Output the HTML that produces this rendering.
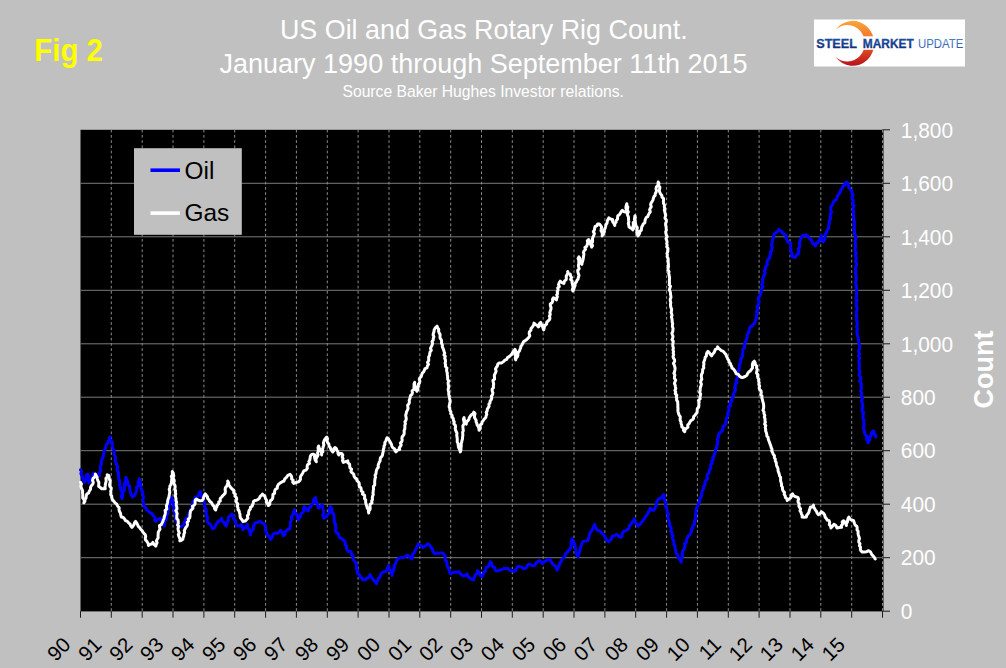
<!DOCTYPE html>
<html><head><meta charset="utf-8"><style>
html,body{margin:0;padding:0;background:#c0c0c0;overflow:hidden;}
svg{display:block;}
text{font-family:"Liberation Sans",sans-serif;}
.yl{font-size:22px;fill:#fff;}
.xl{font-size:20.5px;fill:#000;}
</style></head><body>
<svg width="1006" height="668" viewBox="0 0 1006 668">
<rect x="0" y="0" width="1006" height="668" fill="#c0c0c0"/>
<text transform="translate(34.3,61.1) scale(0.912,1)" font-size="32.2" font-weight="bold" fill="#ffff00">Fig 2</text>
<text transform="translate(483.8,39.3) scale(0.96,1)" font-size="28" fill="#fff" text-anchor="middle">US Oil and Gas Rotary Rig Count.</text>
<text transform="translate(483.5,73.3) scale(0.965,1)" font-size="28" fill="#fff" text-anchor="middle">January 1990 through September 11th 2015</text>
<text transform="translate(483.2,97) scale(0.94,1)" font-size="16.7" fill="#fff" text-anchor="middle">Source Baker Hughes Investor relations.</text>
<g id="logo">
<defs>
<linearGradient id="cres" x1="0" y1="0" x2="0" y2="1">
<stop offset="0" stop-color="#f9a63a"/>
<stop offset="0.45" stop-color="#f26a2a"/>
<stop offset="1" stop-color="#b8101a"/>
</linearGradient>
<linearGradient id="blu" x1="0" y1="0" x2="0" y2="1">
<stop offset="0" stop-color="#2260b4"/>
<stop offset="1" stop-color="#0a1f68"/>
</linearGradient>
<linearGradient id="blu2" x1="0" y1="0" x2="0" y2="1">
<stop offset="0" stop-color="#4a8ad0"/>
<stop offset="1" stop-color="#3050a0"/>
</linearGradient>
</defs>
<rect x="814" y="19.5" width="151" height="47" fill="#fff"/>
<path d="M 835.5 29.8 A 21.5 22.5 0 1 1 835.5 56.8 A 17.5 18.3 0 1 0 835.5 29.8 Z" fill="url(#cres)"/>
<rect x="858.5" y="36.3" width="20" height="13.5" fill="#fff"/>
<text x="816.2" y="47.9" font-size="12.6" font-weight="bold" fill="url(#blu)" stroke="#163a8a" stroke-width="0.3" textLength="40.8" lengthAdjust="spacingAndGlyphs">STEEL</text>
<text x="862.8" y="47.9" font-size="12.6" font-weight="bold" fill="url(#blu)" stroke="#163a8a" stroke-width="0.3" textLength="51" lengthAdjust="spacingAndGlyphs">MARKET</text>
<text x="918" y="47.9" font-size="12.6" fill="url(#blu2)" textLength="45.3" lengthAdjust="spacingAndGlyphs">UPDATE</text>
</g>
<rect x="80.5" y="129.8" width="803.0" height="481.6" fill="#000"/>
<line x1="80.5" y1="557.7" x2="882.5" y2="557.7" stroke="#7a7a7a" stroke-width="1"/>
<line x1="80.5" y1="504.2" x2="882.5" y2="504.2" stroke="#7a7a7a" stroke-width="1"/>
<line x1="80.5" y1="450.7" x2="882.5" y2="450.7" stroke="#7a7a7a" stroke-width="1"/>
<line x1="80.5" y1="397.2" x2="882.5" y2="397.2" stroke="#7a7a7a" stroke-width="1"/>
<line x1="80.5" y1="343.8" x2="882.5" y2="343.8" stroke="#7a7a7a" stroke-width="1"/>
<line x1="80.5" y1="290.3" x2="882.5" y2="290.3" stroke="#7a7a7a" stroke-width="1"/>
<line x1="80.5" y1="236.8" x2="882.5" y2="236.8" stroke="#7a7a7a" stroke-width="1"/>
<line x1="80.5" y1="183.3" x2="882.5" y2="183.3" stroke="#7a7a7a" stroke-width="1"/>
<line x1="111.3" y1="129.8" x2="111.3" y2="611.2" stroke="#8c8c8c" stroke-width="1" stroke-dasharray="2.7 2.5"/>
<line x1="142.2" y1="129.8" x2="142.2" y2="611.2" stroke="#8c8c8c" stroke-width="1" stroke-dasharray="2.7 2.5"/>
<line x1="173.0" y1="129.8" x2="173.0" y2="611.2" stroke="#8c8c8c" stroke-width="1" stroke-dasharray="2.7 2.5"/>
<line x1="203.9" y1="129.8" x2="203.9" y2="611.2" stroke="#8c8c8c" stroke-width="1" stroke-dasharray="2.7 2.5"/>
<line x1="234.7" y1="129.8" x2="234.7" y2="611.2" stroke="#8c8c8c" stroke-width="1" stroke-dasharray="2.7 2.5"/>
<line x1="265.6" y1="129.8" x2="265.6" y2="611.2" stroke="#8c8c8c" stroke-width="1" stroke-dasharray="2.7 2.5"/>
<line x1="296.4" y1="129.8" x2="296.4" y2="611.2" stroke="#8c8c8c" stroke-width="1" stroke-dasharray="2.7 2.5"/>
<line x1="327.3" y1="129.8" x2="327.3" y2="611.2" stroke="#8c8c8c" stroke-width="1" stroke-dasharray="2.7 2.5"/>
<line x1="358.1" y1="129.8" x2="358.1" y2="611.2" stroke="#8c8c8c" stroke-width="1" stroke-dasharray="2.7 2.5"/>
<line x1="389.0" y1="129.8" x2="389.0" y2="611.2" stroke="#8c8c8c" stroke-width="1" stroke-dasharray="2.7 2.5"/>
<line x1="419.8" y1="129.8" x2="419.8" y2="611.2" stroke="#8c8c8c" stroke-width="1" stroke-dasharray="2.7 2.5"/>
<line x1="450.7" y1="129.8" x2="450.7" y2="611.2" stroke="#8c8c8c" stroke-width="1" stroke-dasharray="2.7 2.5"/>
<line x1="481.5" y1="129.8" x2="481.5" y2="611.2" stroke="#8c8c8c" stroke-width="1" stroke-dasharray="2.7 2.5"/>
<line x1="512.3" y1="129.8" x2="512.3" y2="611.2" stroke="#8c8c8c" stroke-width="1" stroke-dasharray="2.7 2.5"/>
<line x1="543.2" y1="129.8" x2="543.2" y2="611.2" stroke="#8c8c8c" stroke-width="1" stroke-dasharray="2.7 2.5"/>
<line x1="574.0" y1="129.8" x2="574.0" y2="611.2" stroke="#8c8c8c" stroke-width="1" stroke-dasharray="2.7 2.5"/>
<line x1="604.9" y1="129.8" x2="604.9" y2="611.2" stroke="#8c8c8c" stroke-width="1" stroke-dasharray="2.7 2.5"/>
<line x1="635.7" y1="129.8" x2="635.7" y2="611.2" stroke="#8c8c8c" stroke-width="1" stroke-dasharray="2.7 2.5"/>
<line x1="666.6" y1="129.8" x2="666.6" y2="611.2" stroke="#8c8c8c" stroke-width="1" stroke-dasharray="2.7 2.5"/>
<line x1="697.4" y1="129.8" x2="697.4" y2="611.2" stroke="#8c8c8c" stroke-width="1" stroke-dasharray="2.7 2.5"/>
<line x1="728.3" y1="129.8" x2="728.3" y2="611.2" stroke="#8c8c8c" stroke-width="1" stroke-dasharray="2.7 2.5"/>
<line x1="759.1" y1="129.8" x2="759.1" y2="611.2" stroke="#8c8c8c" stroke-width="1" stroke-dasharray="2.7 2.5"/>
<line x1="790.0" y1="129.8" x2="790.0" y2="611.2" stroke="#8c8c8c" stroke-width="1" stroke-dasharray="2.7 2.5"/>
<line x1="820.8" y1="129.8" x2="820.8" y2="611.2" stroke="#8c8c8c" stroke-width="1" stroke-dasharray="2.7 2.5"/>
<line x1="851.7" y1="129.8" x2="851.7" y2="611.2" stroke="#8c8c8c" stroke-width="1" stroke-dasharray="2.7 2.5"/>
<line x1="882.5" y1="129.8" x2="882.5" y2="611.2" stroke="#8c8c8c" stroke-width="1" stroke-dasharray="2.7 2.5"/>
<line x1="80.5" y1="611.2" x2="80.5" y2="617.7" stroke="#1c1c1c" stroke-width="1"/>
<line x1="111.3" y1="611.2" x2="111.3" y2="617.7" stroke="#1c1c1c" stroke-width="1"/>
<line x1="142.2" y1="611.2" x2="142.2" y2="617.7" stroke="#1c1c1c" stroke-width="1"/>
<line x1="173.0" y1="611.2" x2="173.0" y2="617.7" stroke="#1c1c1c" stroke-width="1"/>
<line x1="203.9" y1="611.2" x2="203.9" y2="617.7" stroke="#1c1c1c" stroke-width="1"/>
<line x1="234.7" y1="611.2" x2="234.7" y2="617.7" stroke="#1c1c1c" stroke-width="1"/>
<line x1="265.6" y1="611.2" x2="265.6" y2="617.7" stroke="#1c1c1c" stroke-width="1"/>
<line x1="296.4" y1="611.2" x2="296.4" y2="617.7" stroke="#1c1c1c" stroke-width="1"/>
<line x1="327.3" y1="611.2" x2="327.3" y2="617.7" stroke="#1c1c1c" stroke-width="1"/>
<line x1="358.1" y1="611.2" x2="358.1" y2="617.7" stroke="#1c1c1c" stroke-width="1"/>
<line x1="389.0" y1="611.2" x2="389.0" y2="617.7" stroke="#1c1c1c" stroke-width="1"/>
<line x1="419.8" y1="611.2" x2="419.8" y2="617.7" stroke="#1c1c1c" stroke-width="1"/>
<line x1="450.7" y1="611.2" x2="450.7" y2="617.7" stroke="#1c1c1c" stroke-width="1"/>
<line x1="481.5" y1="611.2" x2="481.5" y2="617.7" stroke="#1c1c1c" stroke-width="1"/>
<line x1="512.3" y1="611.2" x2="512.3" y2="617.7" stroke="#1c1c1c" stroke-width="1"/>
<line x1="543.2" y1="611.2" x2="543.2" y2="617.7" stroke="#1c1c1c" stroke-width="1"/>
<line x1="574.0" y1="611.2" x2="574.0" y2="617.7" stroke="#1c1c1c" stroke-width="1"/>
<line x1="604.9" y1="611.2" x2="604.9" y2="617.7" stroke="#1c1c1c" stroke-width="1"/>
<line x1="635.7" y1="611.2" x2="635.7" y2="617.7" stroke="#1c1c1c" stroke-width="1"/>
<line x1="666.6" y1="611.2" x2="666.6" y2="617.7" stroke="#1c1c1c" stroke-width="1"/>
<line x1="697.4" y1="611.2" x2="697.4" y2="617.7" stroke="#1c1c1c" stroke-width="1"/>
<line x1="728.3" y1="611.2" x2="728.3" y2="617.7" stroke="#1c1c1c" stroke-width="1"/>
<line x1="759.1" y1="611.2" x2="759.1" y2="617.7" stroke="#1c1c1c" stroke-width="1"/>
<line x1="790.0" y1="611.2" x2="790.0" y2="617.7" stroke="#1c1c1c" stroke-width="1"/>
<line x1="820.8" y1="611.2" x2="820.8" y2="617.7" stroke="#1c1c1c" stroke-width="1"/>
<line x1="851.7" y1="611.2" x2="851.7" y2="617.7" stroke="#1c1c1c" stroke-width="1"/>
<line x1="882.5" y1="611.2" x2="882.5" y2="617.7" stroke="#1c1c1c" stroke-width="1"/>
<line x1="882.5" y1="611.2" x2="890.0" y2="611.2" stroke="#1c1c1c" stroke-width="1"/>
<line x1="882.5" y1="557.7" x2="890.0" y2="557.7" stroke="#1c1c1c" stroke-width="1"/>
<line x1="882.5" y1="504.2" x2="890.0" y2="504.2" stroke="#1c1c1c" stroke-width="1"/>
<line x1="882.5" y1="450.7" x2="890.0" y2="450.7" stroke="#1c1c1c" stroke-width="1"/>
<line x1="882.5" y1="397.2" x2="890.0" y2="397.2" stroke="#1c1c1c" stroke-width="1"/>
<line x1="882.5" y1="343.8" x2="890.0" y2="343.8" stroke="#1c1c1c" stroke-width="1"/>
<line x1="882.5" y1="290.3" x2="890.0" y2="290.3" stroke="#1c1c1c" stroke-width="1"/>
<line x1="882.5" y1="236.8" x2="890.0" y2="236.8" stroke="#1c1c1c" stroke-width="1"/>
<line x1="882.5" y1="183.3" x2="890.0" y2="183.3" stroke="#1c1c1c" stroke-width="1"/>
<line x1="882.5" y1="129.8" x2="890.0" y2="129.8" stroke="#1c1c1c" stroke-width="1"/>
<text transform="translate(900.8,618.9) scale(0.95,1)" class="yl">0</text>
<text transform="translate(900.8,565.4) scale(0.95,1)" class="yl">200</text>
<text transform="translate(900.8,511.9) scale(0.95,1)" class="yl">400</text>
<text transform="translate(900.8,458.4) scale(0.95,1)" class="yl">600</text>
<text transform="translate(900.8,404.9) scale(0.95,1)" class="yl">800</text>
<text transform="translate(900.8,351.5) scale(0.95,1)" class="yl">1,000</text>
<text transform="translate(900.8,298.0) scale(0.95,1)" class="yl">1,200</text>
<text transform="translate(900.8,244.5) scale(0.95,1)" class="yl">1,400</text>
<text transform="translate(900.8,191.0) scale(0.95,1)" class="yl">1,600</text>
<text transform="translate(900.8,137.5) scale(0.95,1)" class="yl">1,800</text>
<text transform="translate(993,369.5) rotate(-90)" text-anchor="middle" font-size="27" font-weight="bold" fill="#fff">Count</text>
<text transform="translate(71.8,646) rotate(-45)" text-anchor="end" class="xl">90</text>
<text transform="translate(102.8,646) rotate(-45)" text-anchor="end" class="xl">91</text>
<text transform="translate(133.8,646) rotate(-45)" text-anchor="end" class="xl">92</text>
<text transform="translate(164.7,646) rotate(-45)" text-anchor="end" class="xl">93</text>
<text transform="translate(195.7,646) rotate(-45)" text-anchor="end" class="xl">94</text>
<text transform="translate(226.7,646) rotate(-45)" text-anchor="end" class="xl">95</text>
<text transform="translate(257.7,646) rotate(-45)" text-anchor="end" class="xl">96</text>
<text transform="translate(288.7,646) rotate(-45)" text-anchor="end" class="xl">97</text>
<text transform="translate(319.6,646) rotate(-45)" text-anchor="end" class="xl">98</text>
<text transform="translate(350.6,646) rotate(-45)" text-anchor="end" class="xl">99</text>
<text transform="translate(381.6,646) rotate(-45)" text-anchor="end" class="xl">00</text>
<text transform="translate(412.6,646) rotate(-45)" text-anchor="end" class="xl">01</text>
<text transform="translate(443.6,646) rotate(-45)" text-anchor="end" class="xl">02</text>
<text transform="translate(474.5,646) rotate(-45)" text-anchor="end" class="xl">03</text>
<text transform="translate(505.5,646) rotate(-45)" text-anchor="end" class="xl">04</text>
<text transform="translate(536.5,646) rotate(-45)" text-anchor="end" class="xl">05</text>
<text transform="translate(567.5,646) rotate(-45)" text-anchor="end" class="xl">06</text>
<text transform="translate(598.5,646) rotate(-45)" text-anchor="end" class="xl">07</text>
<text transform="translate(629.4,646) rotate(-45)" text-anchor="end" class="xl">08</text>
<text transform="translate(660.4,646) rotate(-45)" text-anchor="end" class="xl">09</text>
<text transform="translate(691.4,646) rotate(-45)" text-anchor="end" class="xl">10</text>
<text transform="translate(722.4,646) rotate(-45)" text-anchor="end" class="xl">11</text>
<text transform="translate(753.4,646) rotate(-45)" text-anchor="end" class="xl">12</text>
<text transform="translate(784.3,646) rotate(-45)" text-anchor="end" class="xl">13</text>
<text transform="translate(815.3,646) rotate(-45)" text-anchor="end" class="xl">14</text>
<text transform="translate(846.3,646) rotate(-45)" text-anchor="end" class="xl">15</text>
<g id="legend">
<rect x="134" y="148.2" width="107.8" height="86.6" fill="#c0c0c0"/>
<line x1="150.5" y1="170.2" x2="180" y2="170.2" stroke="#0000ff" stroke-width="3.6"/>
<line x1="150.5" y1="213.1" x2="180" y2="213.1" stroke="#fff" stroke-width="3.6"/>
<text x="184.5" y="178.5" font-size="24.4" fill="#000">Oil</text>
<text x="184.5" y="221.4" font-size="24.4" fill="#000">Gas</text>
</g>
<g id="data" fill="none" stroke-width="3" stroke-linejoin="round" stroke-linecap="round">
<polyline points="80.5,469.8 81.5,471.5 80.9,473.6 81.5,475.4 82.8,477.0 82.9,478.9 83.8,480.5 84.6,482.2 85.1,480.5 86.0,479.0 86.8,477.4 86.3,475.4 87.5,474.0 88.6,475.7 87.6,477.7 88.6,479.4 88.4,481.3 89.1,483.0 89.5,480.9 91.2,479.7 91.7,478.0 92.8,476.5 92.7,474.6 93.7,473.1 94.1,474.8 95.0,476.1 96.5,477.0 97.6,475.6 99.4,475.6 98.9,473.7 100.0,472.0 100.9,470.4 100.3,468.4 100.4,466.6 101.1,464.9 101.4,463.2 101.2,461.4 101.9,459.8 102.7,458.3 103.0,456.7 103.6,455.2 103.6,453.6 104.0,452.0 104.4,450.5 105.2,449.0 105.7,447.5 106.0,445.9 106.3,444.2 108.1,443.2 108.4,441.5 109.1,440.1 109.1,438.3 110.2,437.0 109.9,438.9 110.6,440.5 112.2,441.9 112.3,443.6 112.2,445.5 112.6,447.1 112.8,448.9 113.9,450.4 114.3,452.0 114.0,453.7 114.5,455.3 115.4,456.7 115.3,458.4 115.1,460.1 115.5,461.7 116.3,463.2 116.5,464.8 117.6,466.3 117.6,467.9 117.0,469.7 117.9,471.2 118.6,472.7 118.4,474.4 118.6,476.0 118.6,477.7 118.9,479.2 119.6,480.8 119.8,482.4 119.9,484.0 119.7,485.7 120.4,487.2 120.8,488.8 120.9,490.4 121.9,491.9 122.2,493.5 121.4,495.3 121.2,496.9 122.2,498.4 122.6,496.8 122.6,495.1 122.5,493.5 123.3,491.9 124.4,490.5 124.3,488.8 124.3,487.1 125.0,485.6 124.3,483.8 125.1,482.2 126.0,480.8 125.7,479.0 125.9,477.4 126.6,479.1 127.5,480.8 127.7,482.7 127.7,484.6 129.7,485.9 129.6,487.9 129.8,489.8 130.3,491.7 130.8,493.5 131.6,495.2 132.6,496.9 134.4,495.7 135.6,493.9 136.1,492.2 136.5,490.6 136.8,488.9 136.6,487.1 138.3,485.7 138.2,483.9 138.1,482.1 139.0,480.6 139.4,478.9 139.8,480.6 140.3,482.2 140.6,483.9 140.7,485.6 140.9,487.3 141.2,488.9 141.8,490.6 142.8,492.1 142.4,493.9 143.1,495.5 143.5,497.2 143.1,498.9 142.9,500.7 143.3,502.4 143.6,504.0 143.8,505.7 144.6,507.3 146.1,508.3 146.8,510.2 148.4,511.0 149.7,512.7 151.9,513.5 152.9,515.4 154.3,516.6 155.0,518.1 154.7,520.1 155.8,521.4 157.1,520.1 158.5,518.9 160.3,518.4 160.9,520.0 162.0,521.3 163.2,522.6 163.8,524.2 164.1,525.9 164.6,524.2 164.5,522.4 165.1,520.8 166.3,519.3 166.3,517.5 166.6,515.8 167.3,514.2 167.8,512.5 167.5,510.6 168.5,509.1 168.9,507.5 169.0,505.7 169.3,504.0 171.0,502.7 170.8,500.8 170.7,499.1 171.6,497.5 171.8,499.2 171.8,500.9 173.4,502.2 173.7,503.9 173.8,505.5 173.3,507.3 174.5,508.8 174.0,510.6 174.3,512.2 174.9,513.8 175.3,515.4 176.2,517.0 175.4,519.0 176.1,520.7 177.0,522.3 177.9,523.9 177.6,525.7 178.3,527.4 180.5,526.5 182.8,525.9 183.7,524.5 184.0,522.8 185.2,521.5 185.2,519.6 186.3,518.3 188.0,517.3 188.6,515.8 188.8,514.0 189.1,512.4 190.5,511.2 190.3,509.4 191.9,508.3 192.2,506.6 192.3,505.0 192.6,503.4 192.9,501.7 194.8,500.7 194.8,499.0 195.2,497.3 197.2,496.8 198.4,495.7 198.9,494.1 199.4,492.4 200.8,491.5 200.7,493.3 201.0,495.1 201.9,496.6 202.6,498.3 203.3,499.9 203.8,501.6 204.5,503.2 204.5,505.0 204.6,506.7 205.3,508.2 206.0,509.8 206.5,511.4 205.9,513.2 206.8,514.7 206.9,516.4 207.5,518.0 206.9,519.8 207.2,521.4 208.2,522.9 209.9,523.9 210.8,525.6 211.8,527.2 212.7,528.9 214.4,527.9 215.3,526.2 215.9,524.2 217.2,522.9 218.4,521.1 220.4,520.1 221.7,518.4 222.1,520.2 222.9,521.8 224.6,522.8 224.8,524.7 226.2,525.9 226.9,524.1 227.1,522.1 228.3,520.5 228.0,518.4 228.9,516.7 230.7,515.7 231.7,514.0 233.0,515.2 233.7,516.7 233.4,518.7 234.7,519.9 235.7,521.2 235.5,523.0 236.3,524.5 237.0,525.9 239.4,525.7 241.5,524.4 242.2,526.1 242.7,527.9 243.0,529.7 243.9,528.2 245.7,527.4 246.5,525.8 247.5,524.4 247.3,526.3 247.9,528.1 249.5,529.5 249.4,531.4 250.5,533.0 250.4,534.9 250.3,533.1 250.9,531.7 252.6,530.6 253.1,529.1 253.7,527.6 253.5,525.8 254.5,524.5 254.9,522.9 257.3,522.6 259.4,521.4 261.0,522.0 262.3,523.0 263.9,523.7 264.8,525.2 265.5,526.7 265.8,528.4 265.3,530.4 266.3,531.8 266.9,533.4 267.3,535.3 268.9,536.4 270.1,537.7 270.7,539.4 271.9,537.8 272.6,536.1 272.9,534.2 275.0,533.0 277.4,533.4 279.1,532.1 280.4,530.4 282.0,531.8 282.9,533.6 283.4,535.7 284.9,534.5 284.8,532.3 286.4,531.2 287.3,529.6 289.4,529.2 290.1,527.4 290.3,525.7 290.2,523.9 290.6,522.2 291.0,520.5 292.1,518.9 291.4,517.0 292.4,515.4 293.7,513.7 293.7,511.4 294.6,509.5 294.5,511.5 295.3,513.2 296.8,514.6 297.5,516.3 297.8,518.2 298.4,519.9 298.7,518.1 300.4,517.1 300.4,515.1 301.2,513.6 302.8,512.5 304.0,510.7 303.5,508.4 304.3,506.5 305.4,508.1 306.9,509.4 308.1,511.0 308.6,509.4 309.0,507.7 310.9,506.8 311.1,505.0 312.6,503.9 313.5,502.4 313.3,500.2 314.3,498.8 315.6,497.5 315.9,499.3 315.9,501.2 317.0,502.8 317.3,504.6 317.9,506.3 318.6,508.0 320.2,506.2 322.3,505.0 322.4,506.7 323.0,508.3 323.3,510.0 323.7,511.6 323.6,513.3 322.7,515.1 323.7,516.7 323.8,518.4 325.5,517.1 327.0,515.6 328.3,514.0 329.5,512.3 329.2,510.2 329.7,508.3 330.5,506.5 331.4,507.9 332.0,509.4 331.8,511.2 332.3,512.7 333.5,514.0 334.0,515.6 334.2,517.2 334.1,518.9 334.2,520.5 334.4,522.2 335.2,523.7 335.7,525.3 335.6,527.0 336.1,528.6 335.5,530.3 335.8,531.9 337.5,533.0 338.6,534.5 339.0,536.5 340.3,537.9 342.0,538.6 343.0,540.3 344.8,540.9 345.3,542.7 345.1,544.6 346.7,546.2 346.6,548.1 347.0,549.9 348.2,551.3 350.4,551.3 351.5,552.9 351.5,554.7 353.2,555.7 352.9,557.6 353.2,559.2 354.1,560.6 355.2,561.9 355.9,563.5 356.7,565.1 356.5,567.0 356.3,568.9 357.7,570.3 357.2,572.3 358.2,573.8 359.8,575.0 359.9,577.2 362.2,577.9 362.7,579.8 365.7,579.8 366.6,578.3 368.4,577.6 369.4,576.2 370.2,574.6 370.6,576.3 371.5,577.6 372.6,578.8 373.5,580.1 374.7,581.3 376.5,583.6 376.8,581.8 377.9,580.3 378.3,578.5 379.8,577.2 380.5,575.5 381.0,573.8 382.3,572.7 383.7,571.7 385.5,571.6 386.9,570.4 387.4,568.8 387.8,567.1 388.5,565.6 389.1,567.2 389.2,569.0 390.4,570.4 391.1,572.0 391.8,573.6 392.2,575.3 392.3,573.6 392.3,571.9 393.7,570.6 393.8,568.9 394.5,567.3 394.1,565.5 395.2,564.1 395.9,562.5 396.6,560.8 397.5,559.3 398.9,558.1 401.1,557.4 403.4,557.4 405.6,556.7 407.2,555.1 408.8,556.2 410.3,557.5 411.7,558.9 412.5,557.5 412.5,555.7 412.8,554.1 414.2,552.9 414.8,551.4 415.4,549.9 416.4,548.5 416.8,546.9 417.9,545.5 418.4,543.9 419.7,545.4 421.7,546.0 422.9,547.6 424.6,546.4 426.3,545.1 428.1,543.9 429.6,544.9 430.5,546.4 431.4,547.9 432.6,549.1 432.8,550.9 433.5,552.4 434.9,553.6 436.9,553.0 438.9,553.4 440.9,552.9 442.7,553.0 443.9,554.4 445.2,556.0 445.1,558.0 445.1,560.0 446.8,561.4 446.9,563.4 447.1,565.3 447.6,567.1 449.0,568.5 449.1,570.4 449.5,572.3 450.6,573.8 452.4,572.9 454.3,572.3 456.6,572.3 458.8,571.6 460.0,573.4 461.7,574.7 463.3,576.1 465.5,575.4 467.1,573.8 467.5,575.5 468.3,576.9 469.8,577.8 470.8,579.1 473.8,579.8 473.9,578.1 474.7,576.6 475.2,575.1 476.4,573.8 477.3,572.5 477.5,570.8 479.2,571.9 479.5,574.0 480.6,575.5 482.0,576.8 482.5,575.2 483.5,573.8 483.8,572.1 485.4,571.0 485.8,569.3 486.1,567.4 488.3,566.7 488.9,565.1 489.6,563.5 490.3,561.9 491.6,563.2 491.8,565.2 492.7,566.8 494.8,567.5 494.9,569.6 496.3,570.8 498.3,570.8 500.1,569.9 501.9,569.5 503.7,568.6 505.9,568.5 508.2,568.6 509.4,570.0 510.9,570.8 512.8,570.7 514.2,571.6 515.7,570.6 516.4,568.9 517.2,567.3 518.7,566.3 520.4,566.9 522.2,567.4 523.5,568.8 525.4,568.2 526.9,567.1 527.6,564.9 529.5,564.3 531.7,565.2 534.0,565.8 535.2,564.4 536.2,562.8 537.7,561.7 539.2,560.6 540.7,561.3 541.5,562.9 543.0,563.6 544.0,561.8 545.6,561.0 547.4,560.1 548.9,559.1 550.5,559.8 550.9,561.6 552.0,562.8 552.7,564.3 554.2,565.1 555.6,566.5 556.5,568.2 557.2,570.0 558.0,568.3 558.4,566.5 559.6,565.0 559.8,563.0 561.2,561.6 561.7,559.8 563.0,558.5 564.0,557.1 565.1,555.7 565.4,553.8 567.0,552.4 568.4,550.8 569.9,549.3 570.8,547.7 571.1,545.9 571.1,544.1 571.2,542.3 571.4,540.6 572.1,538.9 573.4,540.5 573.1,542.8 574.9,544.2 575.1,546.3 575.2,548.2 576.0,549.8 575.9,551.8 576.7,553.4 576.9,555.3 578.1,556.8 578.0,555.0 579.1,553.5 579.6,551.8 579.7,550.0 580.5,548.4 580.7,546.7 581.5,545.1 581.9,543.4 582.9,541.6 584.9,541.1 587.9,540.4 588.4,538.6 589.0,536.8 589.4,534.9 590.1,533.1 590.9,531.4 592.2,529.9 593.0,528.1 593.7,526.3 594.6,524.6 595.1,526.5 596.2,528.1 596.8,529.9 598.6,530.5 600.2,531.2 601.3,532.9 603.1,534.1 604.3,535.9 605.3,537.5 606.1,539.3 607.3,540.7 608.8,541.9 609.8,540.4 611.4,539.3 611.6,537.4 612.6,535.9 614.7,535.6 616.3,534.4 617.9,535.3 619.1,536.7 620.8,537.4 622.2,536.2 622.0,534.3 622.6,532.7 623.8,531.4 625.4,530.8 626.8,529.9 628.3,529.1 629.0,527.5 629.3,525.7 630.7,524.6 631.6,523.1 632.5,521.6 633.9,520.5 634.3,518.7 634.9,520.2 635.4,521.8 636.0,523.4 636.9,524.8 638.0,526.1 639.1,524.9 640.4,524.0 641.3,522.6 642.4,521.5 643.3,520.1 644.7,518.5 645.6,516.5 647.0,514.9 647.9,513.3 648.7,511.6 649.9,510.2 650.0,508.2 651.6,509.7 653.7,510.4 654.8,509.0 655.4,507.3 656.1,505.7 656.4,504.0 656.6,502.2 657.5,500.7 658.4,499.2 660.1,498.5 661.5,497.5 662.4,496.0 663.5,494.7 664.4,496.2 663.7,498.0 664.6,499.5 665.0,501.0 666.0,502.5 665.6,504.2 665.6,505.9 666.5,507.4 666.7,509.0 667.3,510.7 667.1,512.5 668.4,514.0 668.0,515.9 667.6,517.7 668.4,519.3 669.0,521.0 669.5,522.6 669.5,524.4 670.0,526.1 671.0,527.6 671.3,529.3 670.6,531.2 672.0,532.6 672.0,534.4 673.0,535.9 672.2,537.9 673.1,539.5 673.7,541.1 673.9,542.8 673.9,544.6 675.1,546.1 675.0,547.9 675.4,549.8 675.9,551.6 676.3,553.5 677.7,555.0 678.0,556.9 678.8,558.7 680.4,560.2 681.0,562.1 681.3,560.5 681.0,558.8 682.2,557.3 682.6,555.7 682.0,554.0 682.5,552.4 682.6,550.6 684.3,549.3 684.5,547.4 685.2,545.8 684.5,543.7 686.4,542.5 686.5,540.6 686.9,538.9 687.5,537.2 688.6,535.8 690.0,534.6 690.9,533.1 691.4,531.4 691.5,529.5 692.8,527.9 692.7,525.9 694.5,524.5 694.4,522.5 694.6,520.8 695.6,519.2 695.6,517.5 695.7,515.8 695.5,514.0 696.2,512.4 695.8,510.6 696.7,509.0 696.8,507.0 698.2,505.5 698.3,503.5 699.5,501.9 699.7,500.0 699.9,498.2 701.2,496.8 701.8,495.1 701.7,493.2 702.0,491.4 703.0,489.9 703.7,488.3 703.7,486.4 704.9,484.9 704.9,483.1 705.2,481.4 706.5,479.9 707.5,478.4 707.0,476.4 707.2,474.7 708.7,473.3 709.4,471.7 709.4,469.9 710.7,468.4 710.7,466.6 710.8,464.8 712.2,463.3 711.6,461.3 713.1,459.9 712.7,457.9 713.9,456.4 714.3,454.5 715.1,452.8 715.5,450.9 715.8,449.0 716.9,447.4 716.7,445.6 717.8,444.0 717.5,442.2 717.9,440.6 717.5,438.8 718.5,437.2 718.4,435.4 719.1,433.8 720.3,432.5 721.7,431.3 722.7,429.9 722.9,428.0 723.0,426.2 724.8,425.2 725.7,423.8 725.9,422.0 726.0,420.2 726.5,418.5 727.2,416.9 728.1,415.3 727.6,413.4 728.7,411.9 728.9,410.1 728.9,408.3 728.9,406.6 730.6,405.5 729.9,403.5 730.6,402.1 732.0,400.9 731.6,399.1 732.7,397.7 733.4,396.3 733.2,394.4 734.1,392.8 735.0,391.2 735.5,389.5 734.5,387.5 735.6,385.9 735.4,383.9 737.0,382.4 736.2,380.3 737.0,378.6 737.8,376.9 737.4,375.1 737.6,373.4 737.7,371.7 738.9,370.1 739.3,368.4 739.4,366.7 739.3,364.9 740.3,363.3 740.6,361.5 740.6,359.6 741.5,358.0 742.5,356.4 742.3,354.4 742.9,352.8 742.8,350.9 742.9,349.1 744.7,347.8 744.6,345.9 744.6,344.1 745.3,342.5 746.1,340.8 746.6,338.9 747.1,337.1 747.0,335.1 748.3,333.5 748.7,331.7 749.3,330.1 749.6,328.2 750.6,326.7 752.2,326.1 753.0,324.5 754.3,323.6 755.0,322.0 755.5,320.4 756.1,318.7 756.5,317.1 756.6,315.3 757.2,313.5 756.6,311.5 757.9,309.7 757.3,307.8 757.1,306.0 758.6,304.5 758.8,302.8 759.2,301.1 758.2,299.2 758.6,297.5 759.6,295.9 760.8,294.1 761.0,291.9 761.8,289.9 761.8,288.2 763.0,286.6 761.7,284.7 762.7,283.0 762.8,281.3 762.5,279.5 763.3,277.9 763.6,276.1 764.5,274.6 765.2,272.9 764.3,270.9 765.5,269.3 765.2,267.5 766.3,265.9 767.4,264.4 767.0,262.3 767.5,260.5 768.7,259.0 769.9,257.5 769.9,255.6 770.8,254.0 770.4,252.2 771.7,250.6 771.9,248.9 772.2,247.2 771.5,245.3 771.9,243.6 772.2,241.9 772.3,240.1 773.2,238.6 773.4,236.8 773.9,235.1 774.6,233.5 776.3,232.4 777.9,231.2 778.8,229.3 779.9,230.6 781.6,231.3 782.4,232.9 784.1,234.3 786.0,235.3 786.5,236.9 786.1,238.8 787.0,240.3 787.8,241.9 790.7,243.1 790.3,244.8 790.6,246.4 791.0,248.0 790.6,249.7 790.8,251.3 791.8,252.9 792.1,254.5 791.7,256.2 793.3,256.7 794.7,257.5 796.0,256.4 796.8,254.7 798.5,254.0 798.4,252.2 799.0,250.6 798.3,248.7 799.7,247.1 799.6,245.4 799.2,243.6 799.7,241.9 800.2,240.1 801.0,238.5 801.7,236.8 802.7,235.3 804.6,235.4 806.3,234.7 807.5,236.1 808.7,237.5 809.9,238.9 811.5,240.0 812.3,241.9 812.8,243.7 814.5,244.5 815.3,246.0 816.0,244.5 816.5,243.0 818.6,242.5 818.9,240.7 819.7,238.9 821.1,237.4 821.3,235.3 821.1,237.1 821.5,238.8 822.2,240.4 823.1,241.9 824.3,240.4 824.9,238.7 825.4,236.9 824.9,234.8 826.1,233.3 826.8,231.7 827.3,229.9 828.5,228.5 828.5,226.8 828.8,225.2 829.3,223.6 829.1,221.8 829.7,220.3 830.6,218.8 830.3,217.1 830.1,215.5 830.4,213.9 831.5,212.4 831.0,210.7 830.6,209.0 830.7,207.4 831.5,205.9 832.6,204.4 833.2,202.7 833.9,201.1 835.9,200.1 836.9,198.1 837.2,196.3 838.3,194.9 839.2,193.4 840.5,192.0 840.6,189.8 842.2,188.6 842.7,186.6 844.4,185.3 845.0,183.4 846.4,182.0 847.8,183.5 848.3,185.4 848.8,187.4 850.1,189.3 851.8,191.0 851.9,192.6 852.8,194.2 853.0,195.8 851.9,197.5 852.4,199.1 853.3,200.6 853.0,202.3 852.5,204.0 854.0,205.5 853.5,207.2 852.9,208.9 853.2,210.5 854.0,212.1 853.1,213.8 853.7,215.4 853.4,217.1 853.5,218.7 854.2,220.3 854.4,222.0 854.2,223.7 854.5,225.3 854.0,227.1 854.3,228.7 854.6,230.4 854.5,232.1 854.4,233.8 855.7,235.4 855.4,237.1 855.9,238.7 855.1,240.4 855.1,242.0 855.5,243.6 855.6,245.2 855.7,246.9 855.0,248.5 855.2,250.1 855.5,251.8 856.4,253.4 855.2,255.0 855.8,256.6 856.3,258.3 856.1,259.9 855.5,261.5 856.6,263.1 856.5,264.8 856.2,266.4 855.3,268.1 855.6,269.7 856.0,271.3 855.3,272.9 856.0,274.5 856.0,276.1 856.1,277.7 856.2,279.3 856.2,280.9 855.8,282.5 855.6,284.1 856.5,285.7 856.2,287.3 856.7,288.9 856.8,290.5 856.5,292.1 856.4,293.7 856.6,295.3 856.6,297.0 855.9,298.6 857.2,300.2 856.5,301.9 856.0,303.6 856.4,305.2 856.7,306.9 857.1,308.5 857.1,310.1 856.2,311.8 856.3,313.5 856.7,315.1 856.4,316.8 856.4,318.4 856.5,320.1 857.3,321.7 857.2,323.3 857.2,325.0 856.7,326.9 857.4,328.8 856.8,330.6 857.2,332.5 857.2,334.4 857.8,336.0 857.9,337.6 858.7,339.1 858.6,340.8 858.8,342.4 859.0,344.0 859.8,345.7 859.6,347.4 859.5,349.1 858.6,350.8 859.0,352.4 859.6,354.1 858.5,355.8 859.7,357.5 859.3,359.2 859.0,360.9 859.1,362.6 859.5,364.3 859.0,366.0 859.5,367.6 859.2,369.3 859.6,371.0 859.6,372.7 859.0,374.4 859.6,376.0 860.7,377.6 860.8,379.2 859.6,381.0 860.9,382.6 861.4,384.2 860.8,385.9 861.4,387.6 861.2,389.3 860.6,391.1 861.6,392.7 861.3,394.4 861.2,396.2 862.6,397.7 861.9,399.5 861.5,401.3 862.4,402.9 862.6,404.6 862.6,406.2 863.0,407.8 862.1,409.4 862.1,411.0 863.6,412.6 862.9,414.2 863.2,415.8 862.9,417.4 863.2,419.0 864.0,420.6 863.9,422.4 864.1,424.1 863.9,425.8 863.6,427.5 863.7,429.3 864.4,430.9 864.5,432.7 865.2,434.4 866.6,435.9 866.6,437.7 866.7,439.5 867.8,441.1 868.0,442.9 868.6,441.2 869.8,439.8 869.2,437.7 870.9,436.4 871.0,434.5 871.7,432.4 873.4,430.9 874.2,432.3 874.0,434.1 875.6,435.2 875.8,436.9" stroke="#0000ff"/>
<polyline points="80.5,482.2 81.5,483.9 80.8,486.0 81.3,487.8 82.1,489.6 82.7,491.2 82.5,492.9 82.8,494.5 82.7,496.2 82.7,497.9 84.0,499.4 84.3,501.1 83.8,502.8 84.9,501.3 84.9,499.5 86.0,498.0 86.2,496.2 86.8,494.1 88.7,492.9 89.3,491.0 90.5,489.3 90.5,487.2 91.6,485.5 92.8,484.1 93.3,482.4 92.5,480.3 93.0,478.6 94.3,477.2 95.4,475.8 95.3,473.9 96.1,475.5 97.0,477.0 97.3,478.8 97.8,480.5 98.8,482.3 98.8,484.3 98.6,486.3 100.3,487.5 101.9,488.8 103.6,488.8 105.2,488.8 105.0,487.0 105.3,485.2 105.5,483.5 106.1,481.8 106.1,480.0 105.9,478.2 107.5,476.6 107.2,474.8 108.9,475.6 109.1,477.5 109.3,479.3 110.3,481.1 110.1,483.0 109.5,484.7 109.9,486.4 111.3,487.9 111.1,489.5 110.7,491.3 110.9,492.9 110.7,494.6 111.7,496.1 111.8,497.8 112.5,499.8 113.8,501.3 115.1,502.8 116.7,504.2 117.7,506.2 119.2,507.7 119.0,509.7 119.5,511.5 120.5,513.3 120.8,515.2 121.4,517.0 123.3,517.5 124.6,518.9 125.6,520.7 127.4,521.4 128.6,522.8 130.1,524.1 130.7,525.9 131.9,527.4 133.1,526.1 134.0,524.5 134.5,522.8 135.6,521.4 136.6,522.8 137.5,524.4 138.1,526.1 139.4,527.4 140.5,528.9 141.8,530.3 142.8,531.9 143.9,533.4 145.2,534.6 145.7,536.1 145.3,538.0 145.4,539.7 146.6,541.0 147.4,542.3 148.3,543.7 148.4,545.4 149.9,544.4 151.8,544.0 152.9,542.4 154.0,544.5 155.8,546.1 156.2,544.4 157.1,542.8 156.4,540.9 157.2,539.3 158.2,537.7 158.0,535.9 158.2,534.2 158.2,532.4 159.0,530.8 160.0,529.2 159.6,527.4 159.5,525.6 161.3,524.6 162.0,523.1 162.8,521.6 163.2,520.1 164.0,518.6 164.2,516.9 164.8,515.4 165.2,513.8 165.4,512.2 165.1,510.4 166.8,509.1 166.6,507.4 166.4,505.7 167.2,504.1 167.5,502.5 167.7,500.9 168.0,499.3 168.7,497.7 169.1,496.1 169.3,494.5 169.7,492.9 169.7,491.2 169.2,489.5 169.7,487.8 169.9,486.2 170.7,484.6 171.4,483.0 171.5,481.4 171.7,479.7 171.9,478.1 171.3,476.3 172.4,474.8 172.4,473.1 172.3,471.4 173.2,472.9 173.5,474.5 173.8,476.1 172.8,477.9 173.9,479.4 174.3,481.0 173.7,482.7 174.4,484.3 175.1,485.8 175.1,487.5 174.8,489.2 175.6,490.7 175.3,492.4 175.8,494.0 175.2,495.7 175.7,497.3 176.0,499.0 175.9,500.6 176.7,502.2 176.2,503.9 176.3,505.5 176.8,507.2 177.0,508.8 175.8,510.5 176.6,512.1 177.2,513.7 176.8,515.4 176.8,517.0 176.7,518.6 178.1,520.1 178.3,521.7 178.3,523.3 177.6,525.0 178.7,526.5 178.0,528.2 178.2,529.8 178.6,531.3 179.3,532.9 178.3,534.6 178.8,536.2 179.4,537.7 180.1,539.3 179.8,540.9 181.4,540.4 182.8,539.4 183.1,537.6 183.8,536.0 183.8,534.2 184.7,532.6 184.3,530.7 185.1,529.0 185.8,527.4 187.1,526.0 187.5,524.3 187.1,522.4 188.5,521.1 188.2,519.2 189.7,517.9 190.0,516.1 190.0,514.3 190.3,512.6 190.5,510.9 191.8,509.5 193.0,508.2 192.4,506.2 194.2,505.2 195.1,503.8 195.1,502.0 195.2,500.3 196.3,499.0 198.1,500.1 200.0,500.7 202.2,500.5 203.2,499.0 203.7,497.2 204.3,495.5 205.2,493.9 206.3,495.3 207.4,496.6 207.7,498.5 208.9,499.8 209.7,501.3 211.6,502.8 212.7,505.0 214.2,506.3 214.5,508.5 215.7,510.0 216.0,508.3 216.9,506.8 217.2,505.1 218.7,503.8 218.7,502.0 220.3,500.9 220.2,498.6 221.5,497.2 222.7,495.8 224.0,494.5 225.2,493.0 225.4,491.3 225.1,489.4 225.4,487.7 226.6,486.2 227.3,484.6 227.9,483.0 227.7,481.1 228.7,482.7 228.8,484.8 229.9,486.3 231.0,487.9 232.5,489.4 234.0,490.9 233.7,492.8 235.3,494.2 234.9,496.1 236.4,497.5 236.7,499.3 235.9,501.3 237.0,502.8 237.8,504.3 237.3,506.2 238.0,507.8 238.0,509.5 239.1,511.0 239.5,512.6 240.0,514.3 240.0,516.0 240.5,518.1 241.9,519.7 243.0,521.5 245.2,521.1 246.7,519.5 247.9,518.0 247.4,515.8 248.6,514.3 248.6,512.3 249.1,510.5 250.4,509.0 250.4,507.2 252.1,506.2 252.6,504.7 253.3,503.2 253.4,501.5 254.8,500.6 256.5,500.3 257.9,499.5 259.4,498.4 260.0,496.6 261.4,495.4 262.4,494.0 263.8,495.3 265.0,496.6 265.4,498.5 266.5,500.1 266.3,502.2 267.6,503.8 268.4,505.5 269.8,504.3 269.8,502.5 270.3,500.8 271.8,499.7 272.6,498.2 272.9,496.5 272.9,494.5 274.6,493.2 274.6,491.2 275.3,489.5 277.2,488.3 277.4,486.4 278.4,484.4 280.1,483.1 281.9,481.9 284.0,481.0 284.8,478.8 286.4,477.4 287.9,475.4 290.1,474.4 291.2,475.7 291.7,477.2 291.6,479.1 293.2,480.2 292.7,482.2 293.9,483.4 296.1,482.5 298.4,481.9 299.8,480.7 300.5,479.2 300.3,477.3 301.0,475.7 302.0,474.4 302.8,472.9 303.8,470.9 306.0,470.1 307.3,468.4 307.1,466.5 307.5,464.8 309.5,463.5 308.9,461.6 309.8,460.0 310.1,458.3 310.3,456.5 311.1,454.9 313.0,454.2 314.8,454.9 314.5,456.7 314.8,458.5 315.2,460.2 316.3,461.7 315.9,459.9 316.4,458.1 317.3,456.5 318.1,454.8 317.6,453.0 318.1,451.3 318.3,449.5 318.0,447.7 318.6,446.0 319.1,447.8 320.1,449.5 320.8,451.2 321.6,452.9 321.6,454.9 321.5,453.2 322.9,451.7 322.3,449.9 322.9,448.2 323.2,446.6 323.9,445.0 323.4,443.1 323.8,441.5 324.5,439.8 325.6,438.3 326.8,437.0 327.5,438.7 327.1,440.7 327.5,442.5 328.9,444.1 329.0,446.0 330.2,447.4 330.8,449.0 331.7,450.6 332.8,452.0 333.7,450.6 333.9,448.8 335.0,447.5 336.4,448.6 336.9,450.3 337.9,451.6 338.0,453.5 338.8,454.9 340.0,453.5 341.8,453.4 342.8,455.1 342.2,457.0 343.0,458.7 342.5,460.7 343.3,462.4 345.5,461.6 347.8,460.9 347.9,462.8 349.6,464.1 349.7,466.0 349.9,467.9 351.6,469.2 350.9,471.4 352.2,472.9 353.7,474.1 354.1,476.2 355.0,477.9 356.7,478.9 356.9,480.6 358.3,481.8 359.2,483.2 359.3,484.9 359.3,486.7 360.9,487.8 361.2,489.4 361.3,491.1 363.0,492.2 362.5,494.2 364.5,495.1 364.7,496.8 364.5,498.7 365.7,499.9 365.6,501.6 365.8,503.3 366.3,504.9 366.8,506.5 367.3,508.2 368.5,509.6 368.4,511.3 368.7,513.0 368.6,511.2 369.9,509.7 370.2,507.9 370.0,506.0 370.2,504.3 372.0,502.9 371.7,501.0 372.5,499.5 372.3,497.8 372.6,496.2 373.3,494.7 373.0,493.0 373.2,491.4 373.4,489.8 373.5,488.1 373.4,486.5 374.7,485.0 374.7,483.4 374.7,481.1 375.0,478.8 375.5,477.2 375.1,475.3 376.0,473.8 376.1,472.0 376.5,470.4 377.1,468.8 378.4,467.3 378.1,465.5 378.7,463.9 379.2,462.3 380.1,461.0 380.2,459.2 380.5,457.6 381.9,456.4 382.5,454.9 382.8,453.1 383.3,451.3 383.3,449.5 384.0,447.7 384.0,445.9 384.9,444.4 384.8,442.5 385.8,441.0 386.4,439.3 387.0,437.7 388.6,439.2 389.6,441.1 390.7,442.9 391.5,444.4 391.9,446.2 392.8,447.7 394.5,448.7 394.9,450.5 396.0,451.9 397.5,450.1 399.7,449.6 399.3,447.9 400.3,446.4 401.2,444.9 400.4,443.1 401.7,441.7 402.2,440.1 401.9,438.4 402.2,436.8 403.3,435.5 404.1,434.1 404.2,432.4 404.1,430.6 404.8,428.9 404.9,427.2 404.8,425.4 405.4,423.7 404.9,421.9 405.9,420.4 406.3,418.7 406.0,417.0 405.7,415.2 406.2,413.5 406.5,411.9 407.3,410.3 408.0,408.7 407.9,407.0 407.6,405.2 408.9,403.8 409.4,402.2 409.2,400.4 409.8,398.8 410.2,397.2 410.5,395.5 412.0,394.4 412.4,392.8 412.1,390.9 413.9,389.5 414.0,387.7 414.1,385.8 414.0,384.0 414.7,382.3 414.5,384.3 414.9,386.1 416.6,387.6 416.0,389.6 416.9,391.3 417.8,389.7 417.9,388.0 418.3,386.3 418.3,384.5 419.4,383.0 419.9,381.3 419.3,379.4 419.9,377.8 421.2,376.6 421.7,374.8 422.2,373.1 423.6,371.9 424.3,370.3 425.0,368.6 427.0,367.8 427.4,365.9 428.5,364.3 427.5,362.3 428.7,360.7 428.7,358.9 428.6,357.0 429.6,355.4 429.7,353.6 430.1,351.9 431.3,350.4 430.5,348.4 431.3,346.7 432.1,345.1 432.6,343.4 432.0,341.6 433.2,340.0 433.3,338.4 433.9,336.7 433.1,334.9 433.4,333.2 434.0,331.6 434.1,329.9 435.3,327.8 437.1,326.2 437.6,327.9 438.7,329.3 438.6,331.2 439.1,332.9 440.1,334.4 440.0,336.3 440.1,338.1 441.2,339.7 441.6,341.4 441.5,343.3 442.4,344.9 442.3,346.7 443.0,348.3 443.6,349.9 444.1,351.5 444.7,353.1 443.9,355.0 445.3,356.4 444.7,358.3 445.4,359.9 445.5,361.5 445.1,363.2 445.6,364.8 445.4,366.5 447.0,368.0 446.6,369.7 446.7,371.3 447.3,372.9 447.2,374.5 447.6,376.1 447.6,377.8 447.7,379.4 448.7,381.0 448.1,382.7 448.2,384.3 448.6,386.0 448.6,387.6 448.1,389.3 448.4,390.9 448.8,392.5 448.7,394.2 449.1,395.8 449.4,397.6 449.8,399.4 450.2,401.2 449.9,403.0 449.4,404.9 449.1,406.7 449.8,408.5 449.9,410.3 450.9,411.9 450.7,413.8 452.1,415.2 452.1,417.0 453.3,418.5 453.4,420.3 454.3,421.9 453.8,423.7 455.2,425.1 455.6,426.7 455.2,428.5 455.6,430.1 456.2,431.7 457.0,433.2 456.7,435.0 456.9,436.6 457.2,438.2 457.3,439.9 457.2,441.8 458.0,443.4 458.2,445.1 458.4,446.9 459.1,448.6 459.9,450.2 460.3,451.9 460.9,450.3 460.9,448.7 461.1,447.1 461.3,445.4 461.1,443.8 461.7,442.2 461.9,440.6 462.5,439.0 462.5,437.3 462.8,435.7 462.8,434.1 462.6,432.4 463.3,430.8 463.1,429.1 462.9,427.4 462.9,425.7 463.8,424.2 464.2,422.5 463.8,420.8 463.4,419.1 464.1,417.5 464.1,419.3 465.2,420.8 465.8,422.5 466.3,424.2 466.4,422.2 467.8,420.9 468.9,419.3 469.3,417.5 470.3,416.1 471.4,414.7 472.9,413.7 473.8,412.2 475.0,413.6 474.6,415.4 474.4,417.2 475.2,418.7 476.1,420.2 476.1,421.9 476.8,423.4 477.2,425.2 478.3,426.7 478.9,428.4 479.0,430.2 480.2,428.7 479.9,426.8 480.2,425.0 481.9,423.7 482.0,421.9 483.3,420.5 484.4,418.8 485.8,417.5 486.1,415.8 486.8,414.2 486.2,412.4 487.2,410.9 487.3,409.2 488.3,407.7 489.1,406.2 488.9,404.3 490.0,402.9 490.1,401.0 491.2,399.6 491.8,398.0 491.4,396.2 492.6,394.6 492.9,392.8 492.2,391.0 492.2,389.2 493.5,387.6 493.3,385.8 493.7,384.1 493.3,382.3 492.9,380.5 494.6,379.1 494.5,377.4 494.3,375.6 494.9,374.0 495.7,372.4 496.1,370.8 495.5,369.0 496.3,367.4 497.4,366.0 497.8,364.1 499.2,362.9 501.7,362.9 503.7,361.4 504.9,360.1 506.7,359.3 507.5,357.6 509.2,356.6 510.6,355.3 512.0,353.9 512.7,352.2 514.0,350.9 515.0,349.4 515.7,351.1 515.8,352.9 515.0,354.7 515.7,356.4 515.2,358.2 515.7,359.9 516.0,358.2 517.3,357.0 517.9,355.5 517.9,353.8 518.3,352.2 519.5,350.9 520.0,349.3 520.7,347.9 520.8,346.2 522.0,344.9 522.8,343.1 523.9,341.4 525.7,340.4 527.3,339.0 528.7,337.4 529.8,335.8 529.2,333.7 529.4,331.8 530.9,330.3 531.0,328.4 532.4,326.9 533.6,325.2 534.0,323.1 535.4,324.5 537.2,325.4 538.5,326.9 539.7,325.6 539.4,323.6 540.7,322.4 541.0,324.0 542.5,325.2 542.6,326.8 543.1,328.4 543.7,329.9 544.1,328.3 544.4,326.7 545.1,325.2 546.6,324.1 546.7,322.4 548.2,320.9 549.7,319.4 549.9,317.7 549.4,316.0 550.3,314.4 549.8,312.6 550.3,311.0 550.9,309.3 551.1,307.6 550.4,305.9 550.3,304.0 552.0,302.8 552.7,301.2 552.5,299.2 553.4,297.7 555.0,298.6 556.4,299.9 556.7,298.3 557.4,296.7 556.7,295.0 557.6,293.4 557.2,291.7 558.1,290.1 557.7,288.0 559.3,286.6 558.5,284.5 559.2,282.8 560.2,281.2 561.9,282.6 563.9,283.5 564.4,281.2 566.2,279.7 566.3,278.0 566.2,276.3 567.0,274.8 567.9,273.2 567.7,271.5 568.1,273.4 570.3,274.1 570.6,276.0 571.6,277.6 570.6,279.4 572.1,280.9 572.0,282.6 572.5,284.2 572.8,285.9 573.1,287.6 572.4,289.4 572.9,291.0 573.8,289.2 574.3,287.3 575.1,285.5 575.1,283.5 576.3,282.1 577.0,280.4 578.1,279.0 578.4,277.3 579.0,275.6 578.5,273.9 577.9,272.2 577.7,270.4 579.2,268.8 578.7,267.1 578.4,265.3 578.8,263.6 578.8,261.9 578.8,260.2 578.1,258.5 578.9,256.8 579.7,258.2 580.2,259.7 581.1,261.1 580.7,263.0 581.9,264.3 582.1,262.6 582.7,261.0 583.1,259.3 583.4,257.6 583.6,255.9 583.9,254.2 583.4,252.4 584.1,250.8 585.5,249.5 584.9,247.4 586.7,246.2 587.2,244.6 587.8,243.0 587.3,240.9 588.6,239.6 589.8,240.9 589.3,242.8 590.4,244.1 591.2,245.5 591.6,247.1 592.6,245.5 591.4,243.6 592.5,242.0 592.6,240.3 592.4,238.5 593.1,236.9 593.8,235.3 594.4,233.6 593.3,231.7 594.4,230.1 594.6,228.4 595.1,226.5 597.0,225.7 597.6,223.9 599.4,224.1 600.6,225.4 601.6,227.0 601.3,228.9 601.0,230.7 601.9,232.4 602.4,234.1 602.1,235.9 603.1,234.6 603.8,233.1 604.4,231.6 604.2,229.8 605.1,228.4 605.6,226.6 605.9,224.8 607.0,223.2 607.3,221.3 607.9,219.6 608.8,217.9 610.5,219.1 612.6,219.4 612.6,221.7 613.9,223.4 614.8,225.4 614.7,223.6 616.0,222.2 616.2,220.5 617.5,219.2 617.6,217.4 617.8,215.7 619.3,214.7 620.3,213.3 621.2,211.8 622.3,210.4 623.9,211.7 626.0,211.9 626.7,210.3 626.0,208.6 625.9,206.9 626.4,205.3 626.8,203.7 626.9,205.4 627.8,207.0 627.5,208.6 627.3,210.3 628.3,211.9 627.2,213.7 627.7,215.3 628.4,216.9 628.5,218.6 628.6,220.2 628.8,221.9 628.3,223.6 628.8,225.2 629.0,226.9 630.2,227.9 631.9,228.5 632.8,229.9 633.7,228.2 633.1,226.3 633.4,224.5 633.2,222.7 634.9,221.1 634.4,219.2 635.4,217.6 635.0,215.7 634.6,217.5 634.8,219.2 635.3,220.8 635.3,222.5 635.6,224.2 636.0,225.9 637.3,227.4 637.0,229.2 637.1,230.9 636.7,232.6 637.3,234.3 638.0,235.9 639.0,234.5 639.7,233.1 639.8,231.3 641.3,230.2 641.5,228.5 641.8,226.8 642.6,225.4 643.3,223.9 644.8,222.8 645.0,220.9 645.4,219.1 646.2,217.6 647.8,216.5 648.4,214.9 649.2,213.4 650.3,211.8 649.6,209.8 650.3,208.2 651.3,206.6 650.6,204.7 651.1,203.0 652.2,201.4 653.0,199.9 653.4,198.2 653.9,196.6 655.2,195.4 655.2,193.6 656.2,192.1 656.4,190.4 656.0,188.6 656.4,186.9 658.0,185.5 658.0,183.7 658.2,182.0 659.0,183.6 658.3,185.5 659.9,187.0 659.7,188.8 659.3,190.7 659.8,192.3 660.5,194.0 661.8,195.3 662.0,197.3 663.5,198.4 663.6,200.1 663.4,201.8 663.5,203.4 664.5,205.0 664.3,206.7 664.7,208.3 664.3,210.0 664.8,211.7 665.1,213.3 665.7,214.9 665.3,216.6 665.0,218.3 666.3,219.9 666.4,221.6 665.6,223.3 665.6,225.0 666.1,226.7 666.2,228.4 666.4,230.0 665.7,231.7 665.9,233.4 666.3,235.1 667.2,236.7 666.0,238.5 666.6,240.1 667.1,241.8 666.7,243.5 667.2,245.1 666.7,246.8 667.9,248.3 667.9,250.0 667.8,251.7 667.0,253.4 667.4,255.0 667.1,256.7 668.0,258.3 668.2,259.9 668.2,261.6 668.3,263.2 668.4,264.9 668.5,266.6 668.1,268.3 668.0,269.9 669.0,271.6 668.7,273.2 669.0,274.9 669.4,276.5 669.6,278.1 669.4,279.8 669.4,281.5 669.6,283.1 669.1,284.8 670.5,286.3 669.9,288.0 669.4,289.7 670.0,291.3 670.5,292.9 670.5,294.5 670.9,296.1 670.9,297.7 670.2,299.4 670.3,301.0 670.8,302.6 670.5,304.2 670.6,305.8 670.8,307.4 671.6,309.0 671.6,310.6 671.1,312.2 671.7,313.8 672.0,315.4 671.4,317.0 671.9,318.6 672.2,320.2 672.1,321.9 672.7,323.5 672.4,325.1 672.4,326.7 673.1,328.3 672.9,329.9 672.8,331.5 671.9,333.2 672.4,334.8 673.0,336.4 672.7,338.0 672.0,339.7 673.3,341.3 673.0,343.0 672.7,344.7 672.9,346.4 673.4,348.1 672.9,349.8 673.5,351.4 673.2,353.2 673.7,354.8 673.0,356.5 673.5,358.2 674.6,359.8 674.6,361.5 673.4,363.3 674.2,364.9 674.7,366.6 675.1,368.2 674.9,369.9 674.6,371.6 673.9,373.4 674.9,375.0 674.5,376.7 674.4,378.4 675.7,380.1 675.0,381.8 674.4,383.5 675.2,385.2 675.4,386.8 675.8,388.5 674.9,390.3 675.7,391.9 675.2,393.6 676.8,395.1 676.3,396.8 676.7,398.4 676.6,400.1 677.7,401.7 677.7,403.3 677.9,405.0 677.8,406.7 678.0,408.3 677.9,410.1 678.1,411.8 678.6,413.5 679.1,415.1 680.3,416.6 680.2,418.4 680.1,420.2 681.0,421.7 681.0,423.5 681.7,425.1 681.9,427.0 683.8,428.2 683.4,430.3 684.7,431.7 685.0,429.8 686.3,428.4 687.9,427.2 687.7,425.0 689.1,423.6 689.9,422.0 690.8,420.6 692.4,419.7 693.5,418.5 693.6,416.5 694.9,415.3 695.9,414.0 697.1,412.5 697.2,410.5 697.3,408.6 698.7,407.2 698.9,405.3 698.8,403.7 699.2,402.0 698.5,400.4 700.2,398.9 699.8,397.2 700.4,395.6 700.6,394.0 699.6,392.3 700.2,390.7 700.2,389.0 700.4,387.4 701.0,385.8 701.4,384.2 700.6,382.4 700.9,380.8 701.8,379.3 701.5,377.6 701.3,375.9 701.6,374.2 702.4,372.7 702.6,371.1 702.7,369.4 703.8,367.8 703.5,365.9 704.0,364.2 703.6,362.3 704.4,360.6 704.9,358.9 705.2,357.3 706.4,356.0 706.4,354.3 706.9,352.7 707.9,351.4 709.3,352.8 710.4,354.4 711.6,355.9 712.4,354.3 713.7,353.0 714.6,351.4 715.2,349.6 717.1,348.7 717.6,346.9 718.6,348.4 720.1,349.5 721.4,350.7 723.3,351.4 724.6,353.0 725.9,354.4 726.4,356.0 727.2,357.5 727.7,359.1 728.9,360.4 728.9,362.1 730.4,363.3 730.7,364.9 731.6,366.3 731.9,367.9 733.5,369.0 734.6,370.6 735.5,372.2 736.3,373.9 738.1,374.3 739.3,375.8 740.6,377.0 742.3,377.6 743.8,377.0 745.4,376.4 746.8,375.4 747.6,373.6 748.7,372.1 750.3,371.0 751.3,369.4 752.5,368.0 752.4,366.1 752.4,364.2 753.0,362.6 754.3,361.2 755.2,362.8 755.3,364.6 756.7,366.0 756.6,367.9 757.3,369.5 756.8,371.2 756.5,373.0 757.7,374.5 757.5,376.2 757.9,377.8 758.9,379.3 758.6,381.1 759.2,382.7 758.8,384.4 759.6,386.0 759.1,387.8 759.6,389.5 761.0,390.9 761.3,392.6 760.7,394.5 762.0,396.0 761.8,397.8 762.4,399.5 762.7,401.3 763.3,403.0 763.6,404.8 763.7,406.6 763.6,408.4 763.0,410.3 764.0,412.0 764.0,413.7 764.8,415.4 764.3,417.2 765.1,418.8 764.9,420.5 765.4,422.2 764.6,424.0 765.8,425.6 765.2,427.4 765.7,429.1 765.6,430.9 766.3,432.5 766.7,434.2 766.9,436.0 768.1,437.5 768.3,439.3 768.9,440.9 769.6,442.6 770.1,444.3 770.8,445.9 771.2,447.6 772.0,449.2 771.7,451.1 772.6,452.6 773.2,454.3 774.5,455.7 774.3,457.6 775.3,459.1 775.3,460.9 776.2,462.5 776.4,464.2 776.7,466.0 777.6,467.5 778.0,469.2 778.1,471.0 778.7,472.6 779.3,474.3 779.6,476.0 780.6,477.4 780.6,479.2 780.6,480.9 781.1,482.4 781.5,484.0 781.5,485.7 782.4,487.2 782.5,489.1 783.0,490.9 784.5,492.4 784.2,494.4 785.2,495.8 785.4,497.5 786.9,498.7 787.2,500.4 789.6,498.6 791.1,497.3 791.0,495.1 792.5,493.8 793.6,495.7 795.5,496.8 797.9,497.4 798.6,499.0 798.0,500.9 798.3,502.5 799.4,504.1 798.8,505.9 799.7,507.5 800.6,509.0 800.0,510.8 801.1,512.3 801.4,513.9 802.3,515.4 802.1,517.1 804.2,517.3 806.3,517.1 806.7,515.3 808.0,513.8 808.9,512.2 809.3,510.4 809.9,508.7 810.5,506.9 812.8,506.8 813.5,505.1 813.5,506.9 814.5,508.4 815.3,509.9 816.5,511.4 817.2,513.2 818.3,514.7 820.2,513.6 821.3,511.7 823.7,513.5 824.7,515.1 825.1,517.0 826.3,518.5 827.3,520.1 829.1,520.7 829.7,522.5 829.3,524.5 830.6,526.1 830.9,527.9 832.5,526.2 833.9,524.3 835.9,525.6 836.9,527.9 839.2,527.6 841.6,527.3 841.3,525.5 842.8,524.1 842.2,522.1 843.4,520.7 845.0,521.9 845.9,523.6 846.4,525.5 846.3,523.7 847.4,522.1 847.6,520.4 848.0,518.7 848.8,517.1 849.9,518.9 851.6,520.0 853.6,520.7 854.1,522.3 854.6,523.8 855.3,525.2 856.8,526.3 857.2,527.9 857.0,529.8 858.2,531.4 858.0,533.3 858.4,535.1 858.9,536.8 859.5,538.5 858.8,540.4 858.8,542.1 860.0,543.7 859.4,545.6 860.5,547.2 860.3,549.0 860.8,550.7 862.3,552.1 864.4,551.9 866.6,551.7 868.6,550.7 870.6,552.0 871.6,554.2 872.9,555.7 874.2,557.3 875.2,559.0" stroke="#ffffff"/>
</g>
</svg>
</body></html>
